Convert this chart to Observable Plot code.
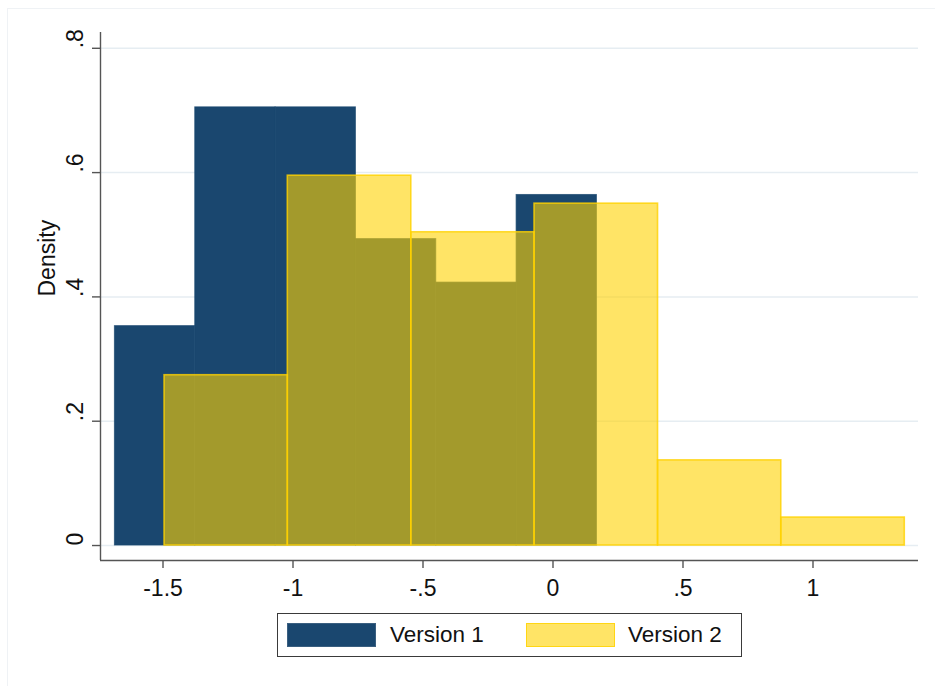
<!DOCTYPE html>
<html>
<head>
<meta charset="utf-8">
<script src="https://cdn.jsdelivr.net/npm/d3@7"></script>
<script src="https://cdn.jsdelivr.net/npm/@observablehq/plot@0.6"></script>
<style>
  html, body { margin: 0; padding: 0; background: #fff; }
  #wrap { position: relative; width: 935px; height: 686px; font-family: "Liberation Sans", Arial, sans-serif; overflow: hidden; }
  #frame { position: absolute; left: 7px; top: 8px; width: 940px; height: 700px; border-top: 1px solid #eff2f5; border-left: 1px solid #eff2f5; }
  #chart { position: absolute; left: 0; top: 0; }
  #legend { position: absolute; left: 277px; top: 613px; width: 463px; height: 42px; border: 1.3px solid #3a3a3a; background: #fff; }
  .sw { position: absolute; top: 9px; width: 89px; height: 24px; box-sizing: border-box; }
  .lt { position: absolute; top: 8px; font-size: 22.5px; line-height: 26px; color: #111; }
</style>
</head>
<body>
<div id="wrap">
  <div id="frame"></div>
  <div id="chart"></div>
  <div id="legend"></div>
</div>
<script>
// ---- data ----
const seriesNames = ["Version 1", "Version 2"];
const v1Edges = [-1.685, -1.376, -1.067, -0.758, -0.449, -0.140, 0.169];
const v1Density = [0.353, 0.705, 0.705, 0.493, 0.423, 0.564];
const v2Edges = [-1.494, -1.020, -0.545, -0.071, 0.404, 0.878, 1.353];
const v2Density = [0.274, 0.595, 0.504, 0.550, 0.137, 0.045];
const xTicks = [-1.5, -1, -0.5, 0, 0.5, 1];
const xLabels = ["-1.5", "-1", "-.5", "0", ".5", "1"];
const yTicks = [0, 0.2, 0.4, 0.6, 0.8];
const yLabels = ["0", ".2", ".4", ".6", ".8"];
const yTitle = "Density";

const navy = "#1a476f";
const gold = "#ffd200";

const v1 = v1Density.map((d, i) => ({x1: v1Edges[i], x2: v1Edges[i + 1], y: d}));
const v2 = v2Density.map((d, i) => ({x1: v2Edges[i], x2: v2Edges[i + 1], y: d}));

const W = 935, H = 605;
const mL = 100, mR = 17, mT = 32, mB = 45;

const chart = Plot.plot({
  width: W,
  height: H,
  marginLeft: mL,
  marginRight: mR,
  marginTop: mT,
  marginBottom: mB,
  style: {fontFamily: "'Liberation Sans', Arial, sans-serif", background: "transparent", overflow: "visible"},
  x: {domain: [-1.7404, 1.4058], label: null},
  y: {domain: [-0.0241, 0.8254], label: null},
  marks: [
    Plot.gridY(yTicks, {stroke: "#e6edf2", strokeOpacity: 1, strokeWidth: 1.5}),
    Plot.rectY(v1, {x1: "x1", x2: "x2", y: "y", fill: navy, stroke: navy, strokeOpacity: 0.7, strokeWidth: 1}),
    Plot.rectY(v2, {x1: "x1", x2: "x2", y: "y", fill: gold, fillOpacity: 0.6, stroke: gold, strokeOpacity: 0.8, strokeWidth: 1.6}),
    Plot.ruleX([-1.7404], {stroke: "#555", strokeWidth: 1.4}),
    Plot.ruleY([-0.0241], {stroke: "#555", strokeWidth: 1.4}),
    Plot.axisX({ticks: xTicks, tickSize: 8, tickFormat: () => "", stroke: "#555", strokeWidth: 1.4, label: null}),
    Plot.axisY({ticks: yTicks, tickSize: 8, tickFormat: () => "", stroke: "#555", strokeWidth: 1.4, label: null}),
    Plot.text(xTicks, {x: d => d, text: (d, i) => xLabels[i], frameAnchor: "bottom", dy: 19, lineAnchor: "top", fontSize: 23, fill: "#111"}),
    Plot.text(yTicks, {y: d => d, text: (d, i) => yLabels[i], frameAnchor: "left", dx: -25, rotate: -90, fontSize: 23, fill: "#111"}),
    Plot.text([yTitle], {text: d => d, frameAnchor: "left", dx: -53, rotate: -90, fontSize: 23, fill: "#111"})
  ]
});
document.getElementById("chart").appendChild(chart);

// legend
const legend = document.getElementById("legend");
const items = [
  {name: seriesNames[0], swLeft: 9, txtLeft: 112, fill: navy, border: "1px solid #3a5f80"},
  {name: seriesNames[1], swLeft: 248, txtLeft: 350, fill: "rgba(255,210,0,0.6)", border: "1.5px solid rgba(255,210,0,0.8)"}
];
for (const it of items) {
  const sw = document.createElement("div");
  sw.className = "sw";
  sw.style.left = it.swLeft + "px";
  sw.style.background = it.fill;
  sw.style.border = it.border;
  legend.appendChild(sw);
  const t = document.createElement("div");
  t.className = "lt";
  t.style.left = it.txtLeft + "px";
  t.textContent = it.name;
  legend.appendChild(t);
}
</script>
</body>
</html>
